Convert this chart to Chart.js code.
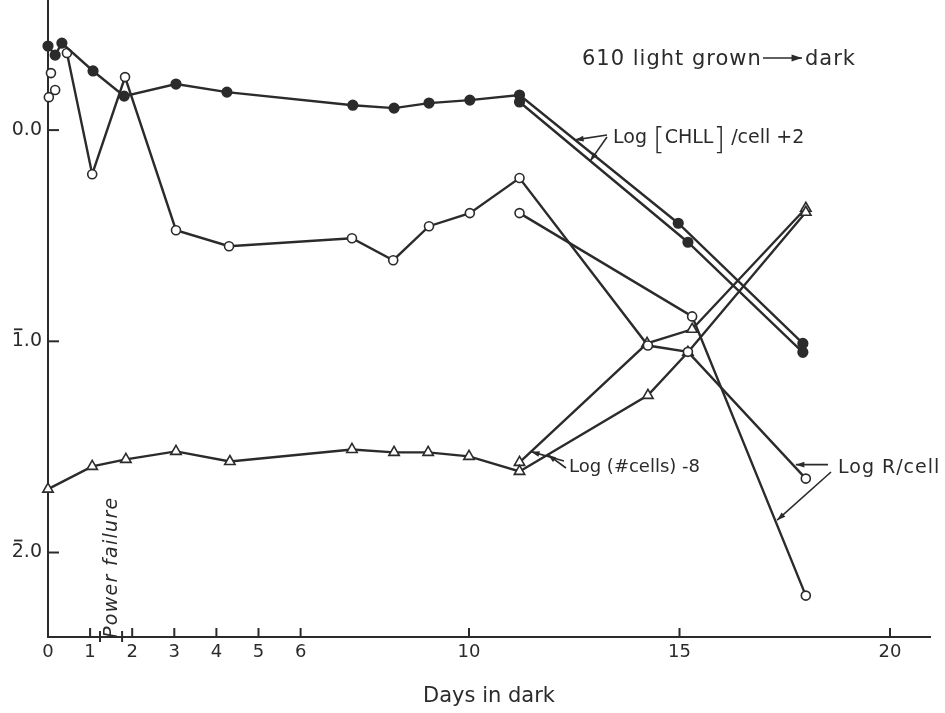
<!DOCTYPE html>
<html>
<head>
<meta charset="utf-8">
<script src="https://cdn.jsdelivr.net/npm/chart.js@4.4.1/dist/chart.umd.min.js"></script>
<style>
  body { margin: 0; background: #fff; }
  #wrap { width: 945px; height: 713px; }
</style>
</head>
<body>
<div id="wrap"><canvas id="chart" width="945" height="713"></canvas></div>
<script>
// Log [CHLL]/cell + 2 (filled circles), second branch after day 11
const chllDays  = [0, 0.17, 0.33, 1.07, 1.81, 3.04, 4.25, 7.24, 8.22, 9.05, 10.02, 11.2, 14.97, 17.93];
const chllLog   = [0.398, 0.355, 0.412, 0.280, 0.161, 0.218, 0.180, 0.118, 0.104, 0.128, 0.142, 0.166, -0.441, -1.010];
const chllDays2 = [11.2, 15.2, 17.93];
const chllLog2  = [0.133, -0.531, -1.052];

// Log R/cell (open circles)
const rDays  = [0.45, 1.05, 1.83, 3.04, 4.3, 7.22, 8.2, 9.05, 10.02, 11.2, 14.25, 15.2, 18];
const rLog   = [0.365, -0.209, 0.251, -0.474, -0.550, -0.512, -0.616, -0.455, -0.393, -0.227, -1.020, -1.050, -1.650];
const rDays2 = [11.2, 15.3, 18];
const rLog2  = [-0.393, -0.882, -2.204];
const rStartDays = [0.02, 0.07, 0.17];
const rStartLog  = [0.156, 0.270, 0.190];

// Log (#cells) - 8 (triangles)
const cellDays  = [0, 1.05, 1.85, 3.04, 4.32, 7.22, 8.22, 9.03, 10.0, 11.2, 14.25, 15.2, 18];
const cellLog   = [-1.700, -1.592, -1.559, -1.521, -1.569, -1.512, -1.526, -1.526, -1.545, -1.616, -1.256, -1.052, -0.389];
const cellDays2 = [11.2, 14.23, 15.3, 18];
const cellLog2  = [-1.573, -1.010, -0.943, -0.370];

const xTicks = [0, 1, 2, 3, 4, 5, 6, 10, 15, 20];
const yTicks = [0, -1, -2];
const yTickLabels = ['0.0', '1.0', '2.0'];
const yBarred = [false, true, true];   // bar notation for negative characteristic
const powerFailure = [1.235, 1.76];

const INK = '#2b2b2b';
const FONT = '"DejaVu Sans", sans-serif';
const Y_FONT_SIZE = 19;
const Y_PAD = 6;

const pts = (xs, ys) => xs.map((x, i) => ({ x: x, y: ys[i] }));

function series(xs, ys, kind, line) {
  const ds = {
    data: pts(xs, ys),
    borderColor: INK,
    borderWidth: 2.4,
    showLine: line !== false,
    tension: 0,
    clip: false,
    pointBorderColor: INK,
    pointBorderWidth: 1.6,
    pointHoverRadius: 0
  };
  if (kind === 'filled') {
    ds.pointStyle = 'circle'; ds.pointRadius = 4.8; ds.pointBackgroundColor = INK;
  } else if (kind === 'open') {
    ds.pointStyle = 'circle'; ds.pointRadius = 4.5; ds.pointBackgroundColor = '#fff';
  } else {
    ds.pointStyle = 'triangle'; ds.pointRadius = 6; ds.pointBackgroundColor = '#fff';
  }
  return ds;
}

function arrow(ctx, x1, y1, x2, y2, head) {
  ctx.beginPath();
  ctx.moveTo(x1, y1);
  ctx.lineTo(x2, y2);
  ctx.stroke();
  const a = Math.atan2(y2 - y1, x2 - x1);
  ctx.beginPath();
  ctx.moveTo(x2, y2);
  ctx.lineTo(x2 - head * Math.cos(a - 0.32), y2 - head * Math.sin(a - 0.32));
  ctx.lineTo(x2 - head * Math.cos(a + 0.32), y2 - head * Math.sin(a + 0.32));
  ctx.closePath();
  ctx.fill();
}

// point at fraction t along segment i of a series, in pixels
function onSeg(chart, xs, ys, i, t) {
  const sx = chart.scales.x, sy = chart.scales.y;
  const d = xs[i] + (xs[i + 1] - xs[i]) * t;
  const v = ys[i] + (ys[i + 1] - ys[i]) * t;
  return [sx.getPixelForValue(d), sy.getPixelForValue(v)];
}

const decorations = {
  id: 'decorations',
  afterDraw(chart) {
    const ctx = chart.ctx;
    const sx = chart.scales.x, sy = chart.scales.y;
    const area = chart.chartArea;
    ctx.save();
    ctx.strokeStyle = INK;
    ctx.fillStyle = INK;
    ctx.lineWidth = 2;

    // inward tick marks
    xTicks.forEach(d => {
      const x = sx.getPixelForValue(d);
      ctx.beginPath(); ctx.moveTo(x, area.bottom); ctx.lineTo(x, area.bottom - 9); ctx.stroke();
    });
    yTicks.forEach(v => {
      const y = sy.getPixelForValue(v);
      ctx.beginPath(); ctx.moveTo(area.left, y); ctx.lineTo(area.left + 11, y); ctx.stroke();
    });

    // bar over the characteristic digit of the y labels
    ctx.font = Y_FONT_SIZE + 'px ' + FONT;
    ctx.lineWidth = 1.8;
    yTicks.forEach((v, i) => {
      if (!yBarred[i]) return;
      const label = yTickLabels[i];
      const right = area.left - Y_PAD;
      const left = right - ctx.measureText(label).width;
      const dw = ctx.measureText(label.charAt(0)).width;
      const y = sy.getPixelForValue(v) - 12;
      ctx.beginPath(); ctx.moveTo(left + dw * 0.18, y); ctx.lineTo(left + dw * 0.88, y); ctx.stroke();
    });
    ctx.lineWidth = 2;

    // power failure interval
    powerFailure.forEach(d => {
      const x = sx.getPixelForValue(d);
      ctx.beginPath(); ctx.moveTo(x, area.bottom - 6); ctx.lineTo(x, area.bottom + 5); ctx.stroke();
    });
    ctx.save();
    ctx.translate(sx.getPixelForValue(1.5) + 6, area.bottom + 1);
    ctx.rotate(-Math.PI / 2);
    ctx.font = 'italic 19px ' + FONT;
    ctx.letterSpacing = '1.3px';
    ctx.textAlign = 'left';
    ctx.textBaseline = 'alphabetic';
    ctx.fillText('Power failure', 0, 0);
    ctx.restore();

    ctx.lineWidth = 1.6;
    ctx.textBaseline = 'alphabetic';
    ctx.textAlign = 'left';

    // heading
    ctx.font = '21px ' + FONT;
    ctx.letterSpacing = '1px';
    ctx.fillText('610 light grown', 582, 65);
    arrow(ctx, 763, 58, 802, 58, 11);
    ctx.fillText('dark', 805, 65);
    ctx.letterSpacing = '0px';

    // Log [CHLL]/cell + 2
    let x = 613;
    ctx.font = '19px ' + FONT;
    ctx.fillText('Log', x, 143); x += ctx.measureText('Log ').width;
    ctx.font = '200 30px ' + FONT;
    ctx.fillText('[', x, 149); x += ctx.measureText('[').width;
    ctx.font = '19px ' + FONT;
    ctx.fillText('CHLL', x, 143); x += ctx.measureText('CHLL').width;
    ctx.font = '200 30px ' + FONT;
    ctx.fillText(']', x, 149); x += ctx.measureText(']').width;
    ctx.font = '19px ' + FONT;
    ctx.fillText(' /cell +2', x, 143);
    let p = onSeg(chart, chllDays, chllLog, 11, 0.35);
    arrow(ctx, 607, 135, p[0], p[1], 9);
    p = onSeg(chart, chllDays2, chllLog2, 0, 0.42);
    arrow(ctx, 607, 137, p[0], p[1], 9);

    // Log (#cells) - 8
    ctx.font = '18px ' + FONT;
    ctx.fillText('Log (#cells) -8', 569, 472);
    p = onSeg(chart, cellDays2, cellLog2, 0, 0.09);
    arrow(ctx, 564, 461, p[0], p[1], 9);
    p = onSeg(chart, cellDays, cellLog, 9, 0.22);
    arrow(ctx, 566, 468, p[0], p[1], 9);

    // Log R/cell
    ctx.font = '19px ' + FONT;
    ctx.letterSpacing = '1px';
    ctx.fillText('Log R/cell', 838, 473);
    ctx.letterSpacing = '0px';
    p = onSeg(chart, rDays, rLog, 11, 0.89);
    arrow(ctx, 828, p[1], p[0] + 3, p[1], 9);
    p = onSeg(chart, rDays2, rLog2, 1, 0.73);
    arrow(ctx, 831, 472, p[0] + 2, p[1], 9);

    ctx.restore();
  }
};

new Chart(document.getElementById('chart').getContext('2d'), {
  type: 'line',
  data: {
    datasets: [
      series(chllDays, chllLog, 'filled'),
      series(chllDays2, chllLog2, 'filled'),
      series(rDays, rLog, 'open'),
      series(rDays2, rLog2, 'open'),
      series(rStartDays, rStartLog, 'open', false),
      series(cellDays, cellLog, 'triangle'),
      series(cellDays2, cellLog2, 'triangle')
    ]
  },
  options: {
    responsive: false,
    animation: false,
    events: [],
    layout: { autoPadding: false, padding: { top: 0, right: 15, left: 0, bottom: 0 } },
    plugins: {
      legend: { display: false },
      tooltip: { enabled: false }
    },
    scales: {
      x: {
        type: 'linear',
        min: 0,
        max: 20.95,
        afterBuildTicks: scale => { scale.ticks = xTicks.map(v => ({ value: v })); },
        afterFit: scale => { scale.height = 76; scale.paddingLeft = 0; scale.paddingRight = 0; },
        grid: { display: false, drawTicks: false },
        border: { display: true, color: INK, width: 2 },
        ticks: {
          color: INK,
          padding: 5,
          maxRotation: 0,
          autoSkip: false,
          font: { family: FONT, size: 18 },
          callback: v => String(v)
        },
        title: {
          display: true,
          text: 'Days in dark',
          color: INK,
          font: { family: FONT, size: 21 },
          padding: { top: 0, bottom: 4 }
        }
      },
      y: {
        type: 'linear',
        min: -2.4,
        max: 0.616,
        afterBuildTicks: scale => { scale.ticks = yTicks.map(v => ({ value: v })); },
        afterFit: scale => { scale.width = 48; scale.paddingTop = 0; scale.paddingBottom = 0; },
        grid: { display: false, drawTicks: false },
        border: { display: true, color: INK, width: 2 },
        ticks: {
          color: INK,
          padding: Y_PAD,
          autoSkip: false,
          font: { family: FONT, size: Y_FONT_SIZE },
          callback: v => yTickLabels[yTicks.indexOf(v)]
        }
      }
    }
  },
  plugins: [decorations]
});
</script>
</body>
</html>
